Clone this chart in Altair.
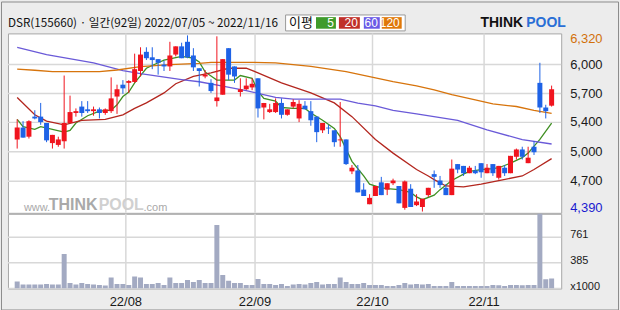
import altair as alt
import pandas as pd

# ---------------- data ----------------
title_text = "DSR(155660) · 일간(92일) 2022/07/05 ~ 2022/11/16"

opens = [5180,5310,5210,5430,5430,5360,5140,5120,5160,5360,
         5470,5540,5510,5490,5510,5470,5490,5650,5780,5800,
         5810,5930,6140,6080,6060,6000,5980,6110,6200,6250,
         6100,5960,5870,5800,5600,5670,6180,5980,5700,5730,
         5750,5850,5530,5480,5480,5580,5450,5540,5410,5550,
         5490,5430,5280,5310,5280,5170,5180,4830,4840,4630,
         4470,4560,4710,4630,4700,4670,4430,4640,4460,4440,
         4570,4800,4730,4650,4570,4910,4890,4810,4840,4920,
         4810,4910,4760,4870,4810,4990,5070,4920,5100,5800,
         5530,5550]
highs = [5400,5380,5390,5500,5580,5360,5230,5210,5880,5660,
         5520,5600,5600,5540,5530,5520,5860,5780,5830,5830,
         6120,6190,6190,6190,6060,6040,6250,6200,6240,6320,
         6180,5960,5940,5840,6310,6060,6180,5980,5850,5850,
         5850,5850,5580,5570,5630,5630,5510,5620,5610,5600,
         5600,5430,5360,5340,5280,5590,5180,4900,4900,4700,
         4580,4670,4770,4700,4750,4670,4730,4690,4580,4530,
         4650,4840,4780,4690,4960,4910,4890,4890,4890,4920,
         4910,4910,4890,4900,5000,5080,5100,5100,5160,6020,
         5560,5770]
lows = [5080,5200,5190,5400,5340,5150,5080,5100,5080,5360,
        5430,5430,5470,5440,5410,5450,5470,5460,5680,5690,
        5800,5870,6050,5950,5890,5930,5930,6090,6070,6070,
        5930,5760,5850,5690,5540,5670,5830,5800,5650,5720,
        5720,5420,5400,5470,5470,5410,5440,5520,5370,5510,
        5330,5150,5250,5240,5100,5100,4900,4800,4600,4560,
        4470,4560,4570,4570,4680,4480,4410,4440,4450,4390,
        4550,4650,4650,4570,4570,4810,4780,4810,4800,4760,
        4810,4780,4740,4780,4810,4960,4960,4920,5010,5470,
        5410,5540]
closes = [5310,5200,5380,5410,5370,5170,5230,5180,5360,5480,
          5490,5470,5490,5510,5470,5510,5630,5730,5740,5820,
          5950,6110,6070,6050,6020,5980,6100,6200,6070,6080,
          5970,5930,5890,5710,5640,6060,5890,5870,5730,5770,
          5790,5520,5580,5510,5580,5450,5510,5590,5570,5510,
          5390,5260,5360,5300,5150,5180,4910,4870,4600,4560,
          4540,4670,4570,4700,4730,4480,4720,4440,4500,4530,
          4650,4770,4680,4570,4860,4850,4810,4870,4810,4820,
          4870,4810,4890,4810,5000,5070,4990,4980,5040,5530,
          5490,5730]
volumes = [104,59,59,59,59,69,59,59,513,84,
           59,84,69,59,54,44,163,69,69,54,
           178,163,69,69,84,54,163,84,84,128,
           99,128,84,84,943,202,118,84,84,54,
           54,143,69,69,54,69,39,59,69,59,
           84,99,59,69,69,163,99,69,69,84,
           54,54,54,39,39,54,84,59,69,59,
           69,39,39,39,99,39,39,39,39,39,
           39,54,49,39,54,54,49,54,54,1400,
           138,148]

ma5_i = [0,1,3,4,6,8,9,10,12,14,16,17,18,19,20,22,24,25,28,30,31,32,34,37,38,40,41,42,44,45,
         47,49,50,52,54,55,57,59,60,62,63,65,67,68,69,71,72,74,76,77,79,81,82,84,86,87,89,91]
ma5_v = [5400,5320,5290,5320,5290,5260,5280,5360,5440,5490,5500,5560,5650,5700,5800,5960,6020,6050,6090,6070,
         6030,5920,5830,5830,5880,5850,5710,5630,5600,5530,5520,5520,5470,5390,5300,5210,4940,4780,4690,4650,
         4640,4630,4600,4550,4520,4570,4630,4730,4800,4830,4850,4860,4870,4920,4980,5030,5180,5360]
ma20_i = [0,3,5,8,11,15,18,20,22,25,27,30,33,36,39,41,45,50,54,57,61,64,68,70,71,73,76,79,82,86,88,91]
ma20_v = [5640,5450,5380,5340,5390,5400,5450,5520,5580,5690,5790,5870,5910,5960,5960,5910,5800,5690,5580,5430,
          5180,5030,4850,4780,4740,4670,4660,4690,4730,4780,4850,4970]
ma60_i = [0,5,13,18,21,28,31,35,39,41,44,47,55,58,61,64,68,75,80,86,91]
ma60_v = [6190,6110,6020,5935,5900,5836,5812,5765,5716,5685,5640,5622,5622,5577,5548,5498,5460,5388,5286,5177,5130]
ma120_i = [0,3,6,14,17,21,26,31,33,40,44,47,50,56,60,64,68,71,74,78,81,85,88,91]
ma120_v = [5950,5938,5924,5924,5941,5978,6000,6014,6025,6025,6020,6000,5980,5924,5869,5814,5767,5723,5670,5614,
           5570,5541,5498,5465]

month_pos = [18.5, 40.5, 60.5, 79.5]
month_labels = ["22/08", "22/09", "22/10", "22/11"]
price_grid = [6000, 5683, 5367, 5046, 4722]
price_grid_labels = ["6,000", "5,700", "5,400", "5,000", "4,700"]
vol_ticks = [761, 385, 0]
vol_tick_labels = ["761", "385", "x1000"]
ma_names = ["5", "20", "60", "120"]

# ---------------- styles ----------------
ma_colors = ["#3f8f22", "#b3261e", "#6a5ad8", "#d7740c"]
legend_colors = ["#3f9b2b", "#c0302a", "#6a5ae6", "#e0780a"]
UP, DOWN = "#f0141e", "#1e62e6"
GRID = "#d8d8d8"
W, PH, VH = 555, 180, 75
NUMFONT = "Liberation Sans"
KFONT = "Noto Sans CJK KR"


def lab_expr(vals, labels):
    expr = "''"
    for v, l in zip(reversed(vals), reversed(labels)):
        expr = f"datum.value == {v} ? '{l}' : {expr}"
    return expr


n = len(opens)
df = pd.DataFrame({"i": list(range(n)), "open": opens, "high": highs,
                   "low": lows, "close": closes, "vol": volumes})
df["dir"] = ["up" if c >= o else "down" for o, c in zip(opens, closes)]

rows = []
for name, idx, vals in zip(ma_names, [ma5_i, ma20_i, ma60_i, ma120_i],
                           [ma5_v, ma20_v, ma60_v, ma120_v]):
    for i, v in zip(idx, vals):
        rows.append({"period": name, "i": i, "v": v})
ma_df = pd.DataFrame(rows)

ext_df = pd.DataFrame({"v": [max(highs), min(lows)], "kind": ["max", "min"]})
pgrid_df = pd.DataFrame({"v": price_grid, "lab": price_grid_labels})
mgrid_df = pd.DataFrame({"i": month_pos, "lab": month_labels})
vgrid_df = pd.DataFrame({"v": vol_ticks, "lab": vol_tick_labels})

xscale = alt.Scale(domain=[-0.72, 91.78], nice=False, zero=False)
pscale = alt.Scale(domain=[4376, 6342], nice=False, zero=False)
vscale = alt.Scale(domain=[0, 1110], nice=False, zero=True)
dir_color = alt.Color("dir:N", scale=alt.Scale(domain=["up", "down"], range=[UP, DOWN]), legend=None)

dummy = pd.DataFrame({"k": [0]})
NOX = alt.X("i:Q", scale=xscale, axis=None)

# ---------------- price panel ----------------
pgrid_h = alt.Chart(pgrid_df).mark_rule(color=GRID, strokeWidth=1.5).encode(
    y=alt.Y("v:Q", scale=pscale, axis=None))
pgrid_v = alt.Chart(mgrid_df).mark_rule(color=GRID, strokeWidth=1.5).encode(x=NOX)
plabels = alt.Chart(pgrid_df).mark_text(
    align="left", baseline="middle", fontSize=13, font=NUMFONT, color="#1a1a1a"
).encode(x=alt.value(W + 9), y=alt.Y("v:Q", scale=pscale, axis=None), text="lab:N")

wicks = alt.Chart(df).mark_rule(strokeWidth=1).encode(
    x=NOX, y=alt.Y("low:Q", scale=pscale, axis=None), y2="high:Q", color=dir_color)
bodies = alt.Chart(df).mark_bar(size=5).encode(
    x=NOX, y=alt.Y("open:Q", scale=pscale, axis=None), y2="close:Q", color=dir_color)
ma_lines = alt.Chart(ma_df).mark_line(strokeWidth=1.3).encode(
    x=NOX,
    y=alt.Y("v:Q", scale=pscale, axis=None),
    stroke=alt.Stroke("period:N", scale=alt.Scale(domain=ma_names, range=ma_colors), legend=None),
    detail="period:N",
)
max_lab = alt.Chart(ext_df[ext_df.kind == "max"]).mark_text(
    align="left", baseline="middle", dy=4, fontSize=13, font=NUMFONT, color="#d2700a"
).encode(x=alt.value(W + 9), y=alt.Y("v:Q", scale=pscale, axis=None),
         text=alt.Text("v:Q", format=","))
min_lab = alt.Chart(ext_df[ext_df.kind == "min"]).mark_text(
    align="left", baseline="middle", dy=-4, fontSize=13, font=NUMFONT, color="#1a1ad0"
).encode(x=alt.value(W + 9), y=alt.Y("v:Q", scale=pscale, axis=None),
         text=alt.Text("v:Q", format=","))


def txt(s, x, y, size, color="#111", font=KFONT, weight="normal", align="left"):
    return alt.Chart(dummy).mark_text(text=s, align=align, baseline="middle", fontSize=size,
                                      font=font, fontWeight=weight, color=color
                                      ).encode(x=alt.value(x), y=alt.value(y))


def box(x, x2, y, y2, fill, stroke=None):
    kw = dict(fill=fill)
    if stroke:
        kw.update(stroke=stroke, strokeWidth=1)
    return alt.Chart(dummy).mark_rect(**kw).encode(
        x=alt.value(x), x2=alt.value(x2), y=alt.value(y), y2=alt.value(y2))


watermark = [
    txt("www.", 16, 175, 11, "#a9a9a9", NUMFONT),
    txt("THINK", 41, 172, 16, "#a9a9a9", NUMFONT, "bold"),
    txt("POOL", 91, 172, 16, "#d0d0d0", NUMFONT, "bold"),
    txt(".com", 136, 175, 11, "#a9a9a9", NUMFONT),
]
header = [
    txt(title_text, 0, -10.5, 11.7, "#111", KFONT),
    box(278.5, 398.5, -18.5, -2.5, "white", "#9a9a9a"),
    txt("이평", 294, -10.5, 13, "#111", KFONT, align="center"),
    txt("THINK", 474, -10, 14, "#111", NUMFONT, "bold"),
    txt("POOL", 520, -10, 14, "#2a6fd6", NUMFONT, "bold"),
]
bx0 = [309, 332, 357, 375]
bx1 = [329, 353, 373, 395]
for name, c, a, b in zip(ma_names, legend_colors, bx0, bx1):
    header.append(box(a, b, -16.3, -4.7, c))
    header.append(txt(name, b - 2, -10.5, 12, "white", NUMFONT, align="right"))

frame = alt.Chart(dummy).mark_rect(fillOpacity=0, stroke="#8c8c8c", strokeWidth=1).encode(
    x=alt.value(-6.5), x2=alt.value(W + 57.5), y=alt.value(-31.5), y2=alt.value(277.5))

price = alt.layer(pgrid_h, pgrid_v, *watermark, ma_lines, wicks, bodies, plabels,
                  max_lab, min_lab, *header, frame).properties(width=W, height=PH)

# ---------------- volume panel ----------------
vgrid_h = alt.Chart(vgrid_df).mark_rule(color=GRID, strokeWidth=1.5).encode(
    y=alt.Y("v:Q", scale=vscale, axis=None))
vgrid_v = alt.Chart(mgrid_df).mark_rule(color=GRID, strokeWidth=1.5).encode(x=NOX)
vlabels = alt.Chart(vgrid_df).mark_text(
    align="left", baseline="middle", fontSize=11, font=NUMFONT, color="#1a1a1a", dy=-2
).encode(x=alt.value(W + 9), y=alt.Y("v:Q", scale=vscale, axis=None), text="lab:N")
mlabels = alt.Chart(mgrid_df).mark_text(
    align="center", baseline="middle", fontSize=13, font=NUMFONT, color="#1a1a1a"
).encode(x=NOX, y=alt.value(VH + 13), text="lab:N")
vbars = alt.Chart(df).mark_bar(size=5, color="#a3aac2", clip=True).encode(
    x=NOX, y=alt.Y("vol:Q", scale=vscale, axis=None))

vol = alt.layer(vgrid_h, vgrid_v, vbars, vlabels, mlabels).properties(width=W, height=VH)

chart = alt.vconcat(price, vol, spacing=1, bounds="flush").properties(padding=0).configure(
    background="#ececec"
).configure_view(
    fill="white", stroke="#a8a8a8", strokeWidth=1
)

chart.save("out.html", embed_options={"renderer": "svg", "actions": False})
